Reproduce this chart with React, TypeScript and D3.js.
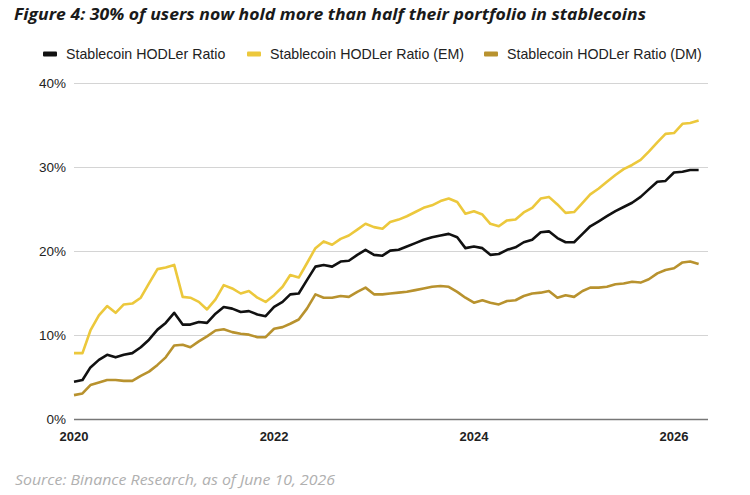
import * as d3 from "d3";

// monthly observations, Jan 2020 .. Apr 2026
const startMonth = new Date(2020, 0, 1);

const overall = [
  4.5, 4.7, 6.2, 7.1, 7.7, 7.4, 7.7, 7.9, 8.6, 9.5, 10.7, 11.5,
  12.7, 11.3, 11.3, 11.6, 11.5, 12.6, 13.4, 13.2, 12.8, 12.9, 12.5, 12.3,
  13.4, 14.0, 14.9, 15.0, 16.6, 18.2, 18.4, 18.2, 18.8, 18.9, 19.6, 20.2,
  19.6, 19.5, 20.1, 20.2, 20.6, 21.0, 21.4, 21.7, 21.9, 22.1, 21.7, 20.4,
  20.6, 20.4, 19.6, 19.7, 20.2, 20.5, 21.1, 21.4, 22.3, 22.4, 21.6, 21.1,
  21.1, 22.1, 23.0, 23.6, 24.2, 24.8, 25.3, 25.8, 26.5, 27.4, 28.3, 28.4,
  29.4, 29.5, 29.7, 29.7,
];

const emerging = [
  7.9, 7.9, 10.6, 12.4, 13.5, 12.7, 13.7, 13.8, 14.5, 16.2, 17.9, 18.1,
  18.4, 14.6, 14.5, 14.0, 13.1, 14.3, 16.0, 15.6, 15.0, 15.3, 14.5, 14.0,
  14.8, 15.8, 17.2, 16.9, 18.6, 20.4, 21.2, 20.8, 21.5, 21.9, 22.6, 23.3,
  22.9, 22.7, 23.5, 23.8, 24.2, 24.7, 25.2, 25.5, 26.0, 26.3, 25.9, 24.5,
  24.8, 24.4, 23.3, 23.0, 23.7, 23.8, 24.65, 25.2, 26.3, 26.5, 25.6, 24.6,
  24.7, 25.8, 26.8, 27.5, 28.3, 29.1, 29.8, 30.3, 30.9, 31.9, 33.0, 34.0,
  34.1, 35.2, 35.3, 35.6,
];

const developed = [
  2.9, 3.1, 4.1, 4.4, 4.7, 4.7, 4.6, 4.6, 5.2, 5.7, 6.5, 7.4,
  8.8, 8.9, 8.6, 9.3, 9.9, 10.6, 10.75, 10.4, 10.2, 10.1, 9.8, 9.8,
  10.8, 11.0, 11.4, 11.9, 13.2, 14.9, 14.5, 14.5, 14.7, 14.6, 15.2, 15.7,
  14.9, 14.9, 15.0, 15.1, 15.2, 15.4, 15.6, 15.8, 15.9, 15.8, 15.2, 14.5,
  13.9, 14.2, 13.9, 13.7, 14.1, 14.2, 14.7, 15.0, 15.1, 15.3, 14.5, 14.8,
  14.6, 15.3, 15.7, 15.7, 15.8, 16.1, 16.2, 16.4, 16.3, 16.7, 17.4, 17.8,
  18.0, 18.7, 18.8, 18.5,
];

const seriesNames = [
  "Stablecoin HODLer Ratio",
  "Stablecoin HODLer Ratio (EM)",
  "Stablecoin HODLer Ratio (DM)",
];
const seriesColors = ["#111111", "#ECC83C", "#B8922E"];
const yTicks = [0, 10, 20, 30, 40];
const xTickYears = [2020, 2022, 2024, 2026];

const titleText =
  "Figure 4: 30% of users now hold more than half their portfolio in stablecoins";
const sourceText = "Source: Binance Research, as of June 10, 2026";

export default function App() {
  const width = 750;
  const height = 495;

  const x = d3
    .scaleTime()
    .domain([new Date(2020, 0, 1), new Date(2026, 0, 1)])
    .range([74, 674]);
  const y = d3.scaleLinear().domain([0, 40]).range([419.5, 83.5]);
  const gridRight = 708;

  const monthDate = (i: number) =>
    new Date(startMonth.getFullYear(), startMonth.getMonth() + i, 1);

  const line = d3
    .line<number>()
    .x((_, i) => x(monthDate(i)))
    .y((d) => y(d));

  const allSeries = [overall, emerging, developed];
  // draw order: EM, DM, overall on top
  const drawOrder = [1, 2, 0];

  const legendX = [43, 247, 484];

  return (
    <svg
      width={width}
      height={height}
      style={{ position: "absolute", left: 0, top: 0, background: "#fff" }}
      fontFamily="'Liberation Sans', Arial, sans-serif"
    >
      <text
        x={14}
        y={20}
        fontFamily="'Open Sans', sans-serif"
        fontWeight="bold"
        fontStyle="italic"
        fontSize={16.5}
        fill="#1a1a1a"
        textLength={632}
        lengthAdjust="spacingAndGlyphs"
      >
        {titleText}
      </text>

      {/* legend */}
      {seriesNames.map((name, k) => (
        <g key={name} transform={`translate(${legendX[k]},54)`}>
          <rect x={0} y={-2.5} width={14} height={5} rx={1} fill={seriesColors[k]} />
          <text x={23} y={5} fontSize={14.2} fill="#222">
            {name}
          </text>
        </g>
      ))}

      {/* grid */}
      {yTicks.map((t) => (
        <g key={t}>
          <line
            x1={x(new Date(2020, 0, 1))}
            x2={gridRight}
            y1={y(t)}
            y2={y(t)}
            stroke={t === 0 ? "#777" : "#d4d4d4"}
            strokeWidth={t === 0 ? 1.3 : 1}
          />
          <text x={66} y={y(t) + 4.5} textAnchor="end" fontSize={13.5} fill="#222">
            {t}%
          </text>
        </g>
      ))}

      {xTickYears.map((yr) => (
        <text
          key={yr}
          x={x(new Date(yr, 0, 1))}
          y={441}
          textAnchor="middle"
          fontSize={13}
          fontWeight="bold"
          fill="#222"
        >
          {yr}
        </text>
      ))}

      {drawOrder.map((k) => (
        <path
          key={k}
          d={line(allSeries[k]) ?? ""}
          fill="none"
          stroke={seriesColors[k]}
          strokeWidth={2.6}
          strokeLinejoin="round"
        />
      ))}

      <text
        x={15}
        y={485}
        fontFamily="'Open Sans', sans-serif"
        fontStyle="italic"
        fontSize={15}
        fill="#b0b0b0"
        textLength={320}
        lengthAdjust="spacingAndGlyphs"
      >
        {sourceText}
      </text>
    </svg>
  );
}
